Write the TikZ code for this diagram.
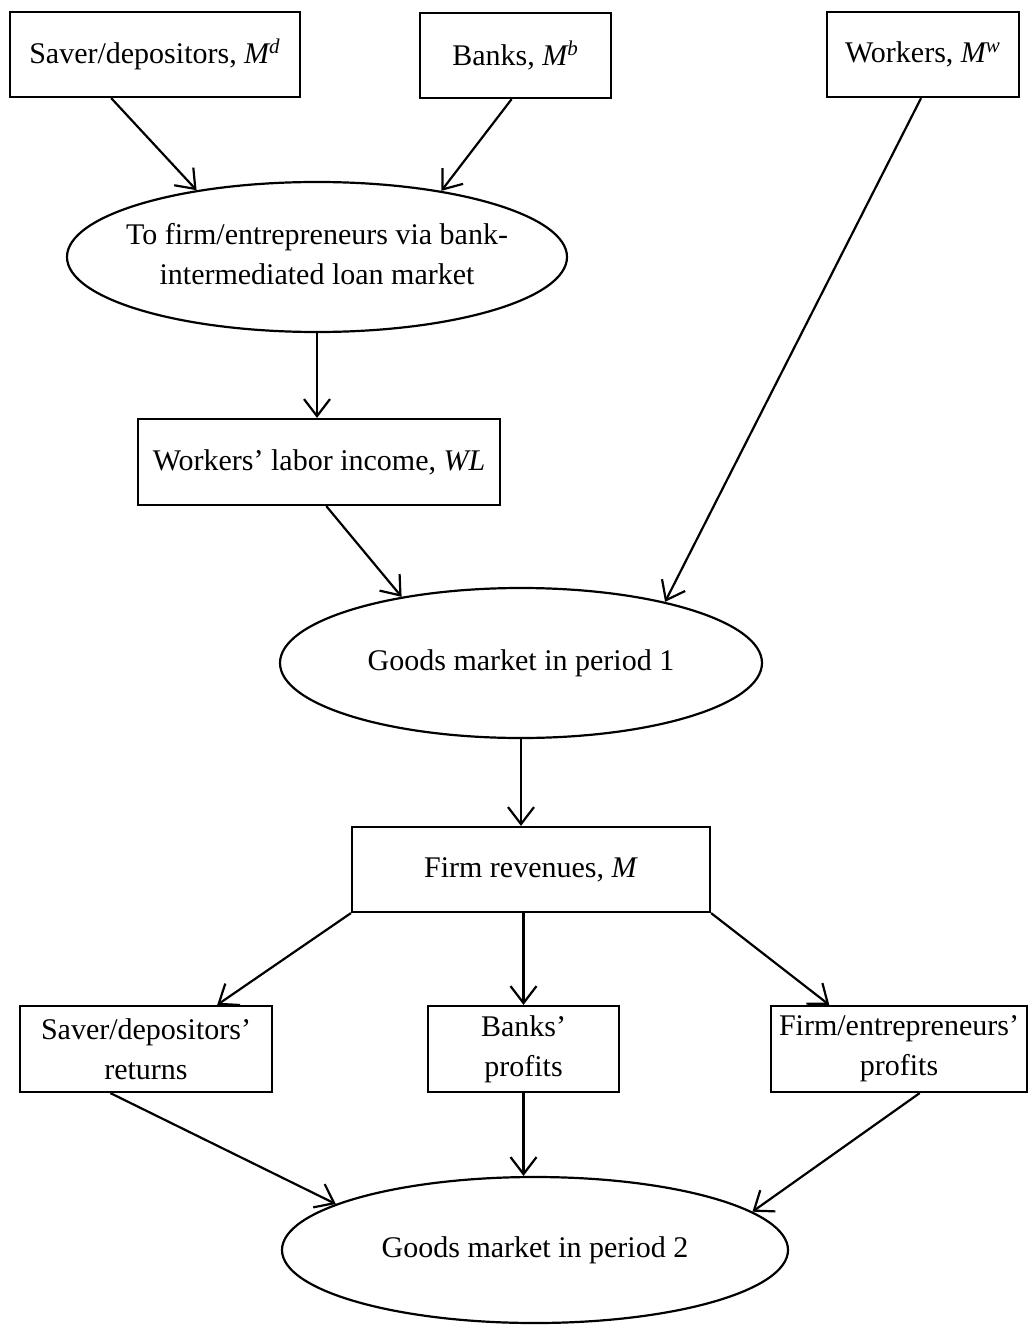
\documentclass[tikz,border=0pt]{standalone}
\usepackage{fontspec}
\setmainfont{Liberation Serif}
\usetikzlibrary{shapes.geometric,arrows.meta,calc}
\begin{document}
\begin{tikzpicture}[x=0.5pt,y=-0.5pt,
  every node/.style={font=\fontsize{15}{20}\selectfont, align=center, inner sep=0pt},
  box/.style={draw, line width=1.1pt, rectangle},
  oval/.style={draw, line width=1.1pt, ellipse},
  arr/.style={line width=1.1pt, -{Straight Barb[length=8.5pt,width=13pt]}}
]
\useasboundingbox (0,0) rectangle (1032,1326);

\node[box, minimum width=145pt, minimum height=42.5pt] (saver) at (155,54.5) {Saver/depositors, \textit{M\textsuperscript{d}}};
\node[box, minimum width=95.5pt, minimum height=42.5pt] (banks) at (515.5,55.5) {Banks, \textit{M\textsuperscript{b}}};
\node[box, minimum width=96pt, minimum height=42.5pt] (workers) at (923,54.5) {Workers, \textit{M\textsuperscript{w}}};

\node[oval, minimum width=250pt, minimum height=75pt] (e1) at (317,257)
  {\makebox[0pt]{\begin{tabular}{@{}c@{}}To firm/entrepreneurs via bank-\\intermediated loan market\end{tabular}}};

\node[box, minimum width=181pt, minimum height=43pt] (wl) at (319,462) {Workers’ labor income, \textit{WL}};

\node[oval, minimum width=241pt, minimum height=75pt] (e2) at (521,663)
  {\makebox[0pt]{Goods market in period 1}};

\node[box, minimum width=179pt, minimum height=42.5pt] (rev) at (531,869.5) {Firm revenues, \textit{M}};

\node[box, minimum width=126pt, minimum height=43pt] (lb) at (146,1049) {Saver/depositors’\\returns};
\node[box, minimum width=95.5pt, minimum height=43pt] (bp) at (523.5,1049) {Banks’\\profits};
\node[box, minimum width=128pt, minimum height=43pt] (rb) at (899,1049) {Firm/entrepreneurs’\\profits};

\node[oval, minimum width=253pt, minimum height=73pt] (e3) at (535,1250)
  {\makebox[0pt]{Goods market in period 2}};

\draw[arr] ($(saver.south west)!0.35!(saver.south east)$) -- (e1.151);
\draw[arr] ($(banks.south west)!0.48!(banks.south east)$) -- (e1.28);
\draw[arr] (e1.south) -- (e1.south |- wl.north);
\draw[arr] ($(wl.south west)!0.52!(wl.south east)$) -- (e2.151);
\draw[arr] ($(workers.south west)!0.49!(workers.south east)$) -- (e2.23);
\draw[arr] (e2.south) -- (e2.south |- rev.north);
\draw[arr] (rev.south west) -- ($(lb.north west)!0.78!(lb.north east)$);
\draw[arr] (bp.north |- rev.south) -- (bp.north);
\draw[arr] (rev.south east) -- ($(rb.north west)!0.23!(rb.north east)$);
\draw[arr] ($(lb.south west)!0.36!(lb.south east)$) -- (e3.167);
\draw[arr] (bp.south) -- (bp.south |- e3.north);
\draw[arr] ($(rb.south west)!0.58!(rb.south east)$) -- (e3.10);
\end{tikzpicture}
\end{document}
